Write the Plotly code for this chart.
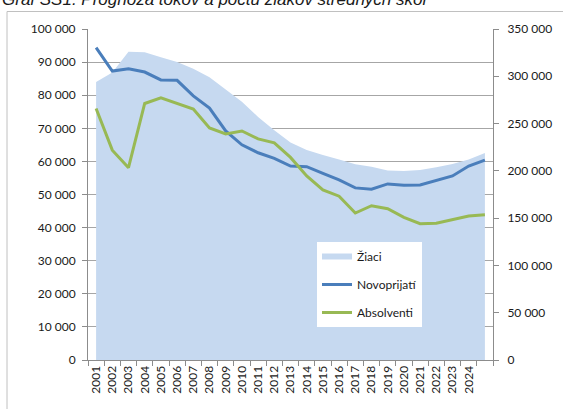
"""Graf SS1: prognóza tokov a počtu žiakov stredných škôl."""

import plotly.graph_objects as go

# ---------------------------------------------------------------------------
# Data
# ---------------------------------------------------------------------------
years = [str(y) for y in range(2001, 2026)]
year_labels = years[:-1] + [""]  # last category has no label

# Žiaci, right axis (0 - 350 000)
ziaci = [294000, 304000, 326000, 325500, 320000, 315000, 308000, 299000,
         286000, 273000, 257000, 243000, 230000, 222000, 216700, 212000,
         207000, 204400, 200500, 199800, 200900, 203700, 207200, 212000,
         219000]

# Novoprijatí and Absolventi, left axis (0 - 100 000)
novoprijati = [94400, 87300, 88000, 87000, 84600, 84500, 79800, 76100,
               69200, 65000, 62600, 60900, 58600, 58400, 56400, 54400,
               52000, 51600, 53200, 52800, 52900, 54200, 55600, 58600,
               60400]
absolventi = [76000, 63400, 58100, 77500, 79200, 77600, 75800, 70100,
              68300, 69200, 66800, 65600, 61200, 55600, 51400, 49500,
              44400, 46600, 45700, 43100, 41200, 41300, 42300, 43500,
              43900]

TITLE = "Graf SS1: Prognóza tokov a počtu žiakov stredných škôl"

AREA_COLOR = "#c6d9f0"
BLUE = "#4a7ebb"
GREEN = "#98b954"
AXIS_GRAY = "#8c8c8c"
FONT = "Lato"

# ---------------------------------------------------------------------------
# Figure
# ---------------------------------------------------------------------------
fig = go.Figure()

# Area sits on the primary (right-hand) axis so it is drawn below the lines.
fig.add_trace(
    go.Scatter(
        x=years,
        y=ziaci,
        name="Žiaci",
        mode="none",
        fill="tozeroy",
        fillcolor=AREA_COLOR,
        yaxis="y",
        legendgroup="a",
    )
)
fig.add_trace(
    go.Scatter(
        x=years,
        y=novoprijati,
        name="Novoprijatí",
        mode="lines",
        line=dict(color=BLUE, width=3),
        yaxis="y2",
        legendgroup="b",
    )
)
fig.add_trace(
    go.Scatter(
        x=years,
        y=absolventi,
        name="Absolventi",
        mode="lines",
        line=dict(color=GREEN, width=3),
        yaxis="y2",
        legendgroup="c",
    )
)

# plot area in pixels: x 88..493, y 29..360
L, R, T, B = 88, 493, 29, 360
PW, PH = R - L, B - T


def px_x(p):
    return (p - L) / PW


def px_y(p):
    return (B - p) / PH


fig.update_layout(
    width=563,
    height=409,
    margin=dict(l=L, r=563 - R, t=T, b=409 - B, pad=0),
    paper_bgcolor="white",
    plot_bgcolor="white",
    separators=", ",
    font=dict(family=FONT, size=12, color="#1a1a1a"),
    showlegend=True,
    xaxis=dict(
        type="category",
        range=[-0.5, 24.5],
        tickvals=years,
        ticktext=year_labels,
        tickson="boundaries",
        ticks="outside",
        ticklen=5,
        tickcolor=AXIS_GRAY,
        tickangle=-90,
        showline=True,
        linecolor=AXIS_GRAY,
        linewidth=1,
        showgrid=False,
        zeroline=False,
    ),
    yaxis=dict(
        side="right",
        range=[0, 350000],
        dtick=50000,
        tickformat=",d",
        ticks="outside",
        ticklen=5,
        tickcolor=AXIS_GRAY,
        ticklabelstandoff=6,
        showline=True,
        linecolor=AXIS_GRAY,
        linewidth=1,
        showgrid=False,
        zeroline=False,
    ),
    yaxis2=dict(
        side="left",
        overlaying="y",
        range=[0, 100000],
        dtick=10000,
        tickformat=",d",
        ticks="outside",
        ticklen=5,
        tickcolor=AXIS_GRAY,
        ticklabelstandoff=4,
        showline=True,
        linecolor=AXIS_GRAY,
        linewidth=1,
        showgrid=True,
        gridcolor="#a6a6a6",
        gridwidth=1,
        zeroline=False,
    ),
    legend=dict(
        x=px_x(317),
        y=px_y(242),
        xanchor="left",
        yanchor="top",
        bgcolor="white",
        borderwidth=0,
        tracegroupgap=9,
        font=dict(family=FONT, size=12, color="#1a1a1a"),
    ),
    shapes=[
        # outer chart frame (runs off the right and bottom edges)
        dict(
            type="rect",
            xref="paper",
            yref="paper",
            x0=px_x(7),
            x1=px_x(620),
            y0=px_y(460),
            y1=px_y(11.5),
            line=dict(color="#c0c0c0", width=1),
            fillcolor="rgba(0,0,0,0)",
            layer="below",
        )
    ],
    annotations=[
        dict(
            text=TITLE,
            xref="paper",
            yref="paper",
            x=px_x(0),
            y=px_y(11),
            xanchor="left",
            yanchor="bottom",
            showarrow=False,
            font=dict(family="Liberation Sans", size=17, style="italic",
                      color="#1a1a1a"),
        )
    ],
)

# the page body has a default 8px margin; drop it so the figure sits at 0,0
fig.write_html(
    "out.html",
    config={"displayModeBar": False},
    post_script="document.body.style.margin='0';",
)
